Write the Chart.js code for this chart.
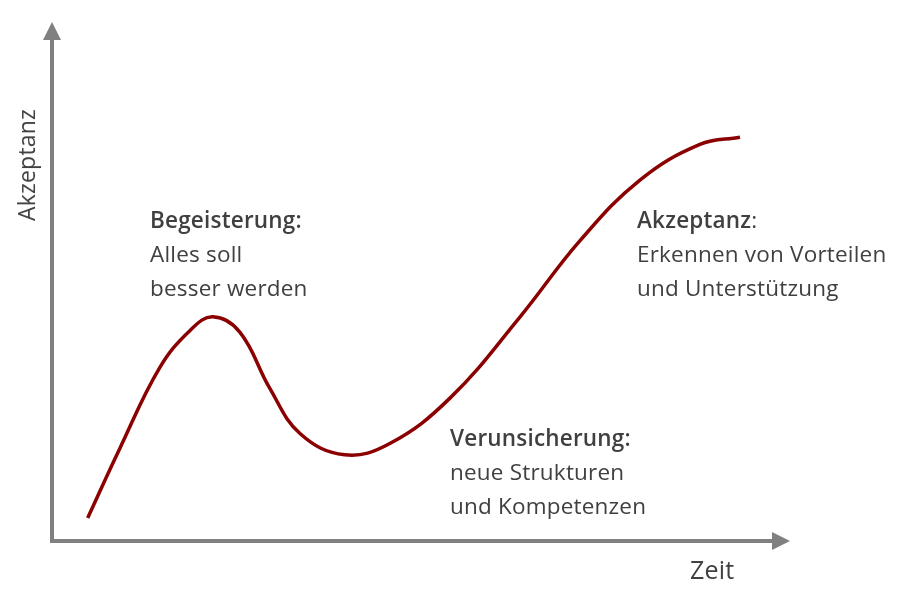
<!DOCTYPE html>
<html><head><meta charset="utf-8">
<script src="https://cdn.jsdelivr.net/npm/chart.js@4"></script>
<style>
body{margin:0;background:#fff;width:919px;height:611px;overflow:hidden;position:relative;font-family:"Open Sans","Noto Sans",sans-serif;color:#404040}
canvas{position:absolute;left:0;top:0}
.t{position:absolute;font-size:22.5px;line-height:34px;white-space:nowrap;letter-spacing:0.2px}
.t b{font-weight:600}
</style></head><body>
<canvas id="c" width="919" height="611"></canvas>
<div class="t" style="left:150px;top:203px"><b>Begeisterung:</b><br>Alles soll<br>besser werden</div>
<div class="t" style="left:637px;top:203px"><b>Akzeptanz</b>:<br>Erkennen von Vorteilen<br>und Unterstützung</div>
<div class="t" style="left:450px;top:421px"><b>Verunsicherung:</b><br>neue Strukturen<br>und Kompetenzen</div>
<div class="t" style="left:690px;top:552px;font-size:25px">Zeit</div>
<div class="t" style="left:-30px;top:148px;font-size:23px;transform:rotate(-90deg);transform-origin:center">Akzeptanz</div>
<script>
const xValues=[4.9,9.3,14.8,19,22.1,25.8,29.9,34.1,40.2,46.4,54.7,64.3,72.5,80.8,89,94.5];
const yValues=[4.5,18,33.8,41.1,43.7,40.7,29.8,20.9,16.8,19,27.9,43.7,58.5,70.4,77.3,78.7];
const arrows={id:'arrows',afterDraw(ch){const a=ch.chartArea,c=ch.ctx;c.save();c.fillStyle='#808080';
c.beginPath();c.moveTo(a.left,a.top-6);c.lineTo(a.left-9,a.top+12);c.lineTo(a.left+9,a.top+12);c.fill();
c.beginPath();c.moveTo(a.right+10,a.bottom);c.lineTo(a.right-8,a.bottom-9);c.lineTo(a.right-8,a.bottom+9);c.fill();c.restore();}};
new Chart(document.getElementById('c'),{type:'scatter',
data:{datasets:[{data:xValues.map((x,i)=>({x,y:yValues[i]})),showLine:true,borderColor:'#8b0000',borderWidth:3.5,pointRadius:0,tension:0.4}]},
options:{responsive:false,animation:false,layout:{padding:{left:44,right:139,top:28,bottom:62}},
plugins:{legend:{display:false},tooltip:{enabled:false}},
scales:{x:{min:0,max:100,ticks:{display:false},grid:{display:false},border:{color:'#808080',width:4}},
y:{min:0,max:100,ticks:{display:false},grid:{display:false},border:{color:'#808080',width:4}}}},
plugins:[arrows]});
</script></body></html>
